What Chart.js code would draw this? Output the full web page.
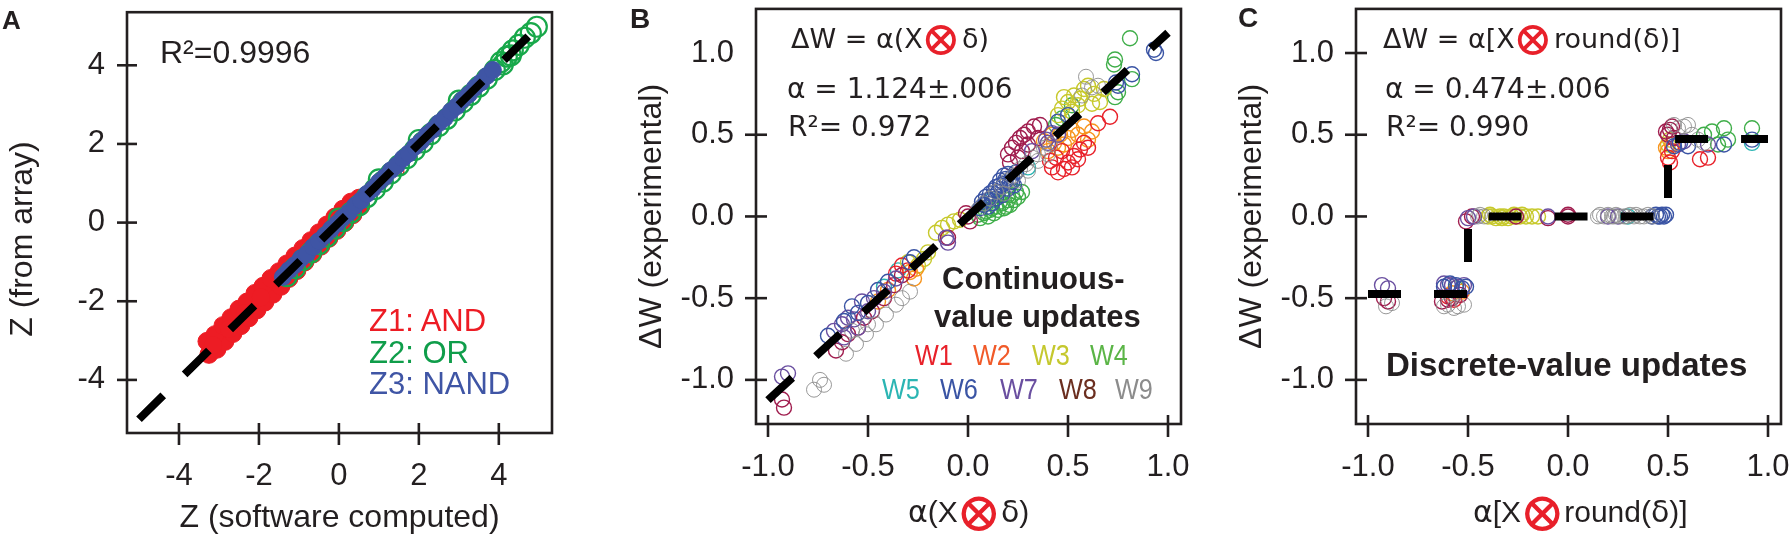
<!DOCTYPE html>
<html>
<head>
<meta charset="utf-8">
<script src="https://cdn.jsdelivr.net/npm/chart.js@4.4.1/dist/chart.umd.min.js"></script>
<style>
  body { margin: 0; background: #fff; }
  #wrap { position: relative; width: 1791px; height: 538px; overflow: hidden; font-family: 'Liberation Sans', Arial, sans-serif; color: #231f20; }
  canvas { position: absolute; top: 0; }
  .t { position: absolute; white-space: nowrap; line-height: 1; }
  .b { font-weight: bold; }
  .dj { font-family: 'DejaVu Sans', sans-serif; }
  .gr { font-family: 'DejaVu Sans', sans-serif; }
  .ox { font-family: 'DejaVu Serif', serif; color: #e8202a; line-height: 0; }
  .o1 { font-size: 48px; vertical-align: -7px; margin: 0 1px 0 -2px; }
  .o2 { font-size: 55px; vertical-align: -9px; margin: 0 -1px 0 -2px; }
  .w { font-size: 29px; transform: scaleX(0.87); transform-origin: left; }
  .ry { transform: translate(-50%, -50%) rotate(-90deg); }
</style>
</head>
<body>
<div id="wrap">
  <canvas id="pa" width="600" height="538" style="left:0px"></canvas>
  <canvas id="pb" width="600" height="538" style="left:600px"></canvas>
  <canvas id="pc" width="591" height="538" style="left:1200px"></canvas>

  <!-- panel A -->
  <div class="t b" style="left:2px;top:7px;font-size:26px">A</div>
  <div class="t ry" style="left:21px;top:239px;font-size:32px">Z (from array)</div>
  <div class="t" style="left:160px;top:36px;font-size:32px">R²=0.9996</div>
  <div class="t" style="left:369px;top:305px;font-size:31px;color:#ed1c24">Z1: AND</div>
  <div class="t" style="left:369px;top:337px;font-size:31px;color:#0f9d4a">Z2: OR</div>
  <div class="t" style="left:369px;top:368px;font-size:31px;color:#3f55a5">Z3: NAND</div>

  <!-- panel B -->
  <div class="t b" style="left:630px;top:5px;font-size:28px">B</div>
  <div class="t dj" style="left:791px;top:25px;font-size:27px">ΔW = α(X<span class="ox o1">⊗</span>δ)</div>
  <div class="t dj" style="left:787px;top:75px;font-size:28px">α = 1.124±.006</div>
  <div class="t dj" style="left:788px;top:113px;font-size:28px">R²= 0.972</div>
  <div class="t b" style="left:942px;top:263px;font-size:31px">Continuous-</div>
  <div class="t b" style="left:934px;top:301px;font-size:31px">value updates</div>
  <div class="t w" style="left:915px;top:341px;color:#e8212a">W1</div>
  <div class="t w" style="left:973px;top:341px;color:#f15a29">W2</div>
  <div class="t w" style="left:1032px;top:341px;color:#c5c82e">W3</div>
  <div class="t w" style="left:1090px;top:341px;color:#5bb547">W4</div>
  <div class="t w" style="left:882px;top:375px;color:#2bb5b3">W5</div>
  <div class="t w" style="left:940px;top:375px;color:#3a54a4">W6</div>
  <div class="t w" style="left:1000px;top:375px;color:#6a4fa0">W7</div>
  <div class="t w" style="left:1059px;top:375px;color:#6b2e1f">W8</div>
  <div class="t w" style="left:1115px;top:375px;color:#8c8c8c">W9</div>
  <div class="t" style="left:908px;top:497px;font-size:30px"><span class="gr">α</span>(X<span class="ox o2">⊗</span><span class="gr">δ</span>)</div>

  <!-- panel C -->
  <div class="t b" style="left:1238px;top:4px;font-size:28px">C</div>
  <div class="t dj" style="left:1383px;top:25px;font-size:27px">ΔW = α[X<span class="ox o1">⊗</span>round(δ)]</div>
  <div class="t dj" style="left:1385px;top:75px;font-size:28px">α = 0.474±.006</div>
  <div class="t dj" style="left:1386px;top:113px;font-size:28px">R²= 0.990</div>
  <div class="t b" style="left:1386px;top:348px;font-size:33px">Discrete-value updates</div>
  <div class="t" style="left:1473px;top:497px;font-size:30px"><span class="gr">α</span>[X<span class="ox o2">⊗</span>round(<span class="gr">δ</span>)]</div>
</div>

<script>
const ink = '#231f20';
const tickFont = { family: "'Liberation Sans', Arial, sans-serif", size: 31 };

// ---- panel A data: Z (software computed) vs Z (from array) ----
const ticksA = [-4, -2, 0, 2, 4];
const fitA = [[-5, -5], [5, 5]];
const zAnd = [
  [-3.25, -3.35], [-3.05, -3.22], [-2.85, -3.02], [-2.65, -2.82], [-2.45, -2.62], [-2.25, -2.42],
  [-2.05, -2.22], [-1.85, -2.02], [-1.65, -1.82], [-1.45, -1.62], [-1.25, -1.42], [-1.05, -1.22],
  [-0.85, -1.0], [-0.65, -0.8], [-0.45, -0.6], [-0.25, -0.4], [-0.05, -0.2], [0.15, 0.0], [0.35, 0.2], [0.55, 0.42],
  [-3.3, -3.02], [-3.1, -2.85], [-2.9, -2.62], [-2.7, -2.42], [-2.5, -2.2], [-2.3, -2.02], [-2.1, -1.8],
  [-1.9, -1.62], [-1.7, -1.42], [-1.5, -1.25], [-1.3, -1.05], [-1.1, -0.85], [-0.9, -0.66], [-0.7, -0.46],
  [-0.5, -0.26], [-0.3, -0.06], [-0.1, 0.14], [0.1, 0.34], [0.3, 0.52], [0.5, 0.62],
  [-3.15, -3.12], [-2.75, -2.7], [-2.35, -2.3], [-1.95, -1.9]
];
const zAndOut = [[1.2, 1.12], [1.45, 1.55], [1.55, 1.3], [0.95, 0.8], [1.3, 1.42]];
const zOr = [
  [-1.3, -1.36], [-1.1, -1.16], [-0.9, -0.95], [-0.7, -0.76], [-0.5, -0.55], [-0.3, -0.36], [-0.1, -0.15],
  [0.1, 0.04], [0.3, 0.25], [0.5, 0.44], [0.7, 0.65], [0.9, 0.85], [1.1, 1.04], [1.3, 1.25], [1.5, 1.45],
  [1.7, 1.64], [1.9, 1.85], [2.1, 2.04], [2.3, 2.25], [2.5, 2.46], [2.7, 2.64], [2.9, 2.85], [3.1, 3.06],
  [3.3, 3.25], [3.5, 3.46], [3.7, 3.66], [3.9, 3.88], [4.05, 4.08], [4.2, 4.22], [4.35, 4.38], [4.5, 4.52],
  [4.65, 4.7], [4.8, 4.82], [4.95, 4.98], [4.3, 4.25], [4.1, 4.02], [0.0, 0.1], [1.0, 1.1], [2.0, 2.1], [3.0, 3.1]
];
const zNand = [
  [-1.4, -1.38], [-1.25, -1.21], [-1.1, -1.08], [-0.95, -0.91], [-0.8, -0.79], [-0.65, -0.62], [-0.5, -0.47],
  [-0.35, -0.33], [-0.2, -0.17], [-0.05, -0.03], [0.1, 0.13], [0.25, 0.26], [0.4, 0.43], [0.55, 0.56],
  [0.7, 0.73], [0.85, 0.86], [1.0, 1.03], [1.15, 1.16], [1.3, 1.33], [1.45, 1.46], [1.6, 1.63], [1.75, 1.76],
  [1.9, 1.93], [2.05, 2.06], [2.2, 2.23], [2.35, 2.36], [2.5, 2.53], [2.65, 2.66], [2.8, 2.83], [2.95, 2.96],
  [3.1, 3.13], [3.25, 3.26], [3.4, 3.43], [3.55, 3.56], [3.7, 3.73], [3.85, 3.88]
];

// ---- panel B data: continuous-value updates, W1..W9 ----
const ticksBC = [-1, -0.5, 0, 0.5, 1];
const fitB = [[-1, -1.124], [1, 1.124]];
const w1B = [[0.42, 0.30], [0.45, 0.27], [0.48, 0.29], [0.50, 0.33], [0.44, 0.36], [0.53, 0.37], [0.56, 0.41],
  [0.58, 0.45], [0.47, 0.40], [0.41, 0.34], [0.52, 0.30], [0.55, 0.35], [0.65, 0.57], [0.71, 0.61], [0.60, 0.42],
  [-0.33, -0.30], [-0.36, -0.35], [-0.30, -0.33]];
const w2B = [[0.40, 0.40], [0.43, 0.45], [0.46, 0.50], [0.50, 0.48], [0.52, 0.53], [0.55, 0.50], [0.58, 0.55],
  [0.45, 0.42], [0.60, 0.47], [0.62, 0.52], [0.48, 0.44], [0.42, 0.50], [0.38, 0.46], [-0.27, -0.38],
  [-0.29, -0.34], [-0.26, -0.32], [-0.40, -0.45], [-0.45, -0.52]];
const w3B = [[0.45, 0.62], [0.47, 0.66], [0.50, 0.70], [0.53, 0.74], [0.56, 0.72], [0.58, 0.78], [0.60, 0.80],
  [0.63, 0.75], [0.66, 0.70], [0.68, 0.78], [0.52, 0.64], [0.55, 0.68], [0.62, 0.69], [0.48, 0.73],
  [-0.16, -0.10], [-0.13, -0.07], [-0.10, -0.05], [-0.07, -0.03], [-0.04, -0.02], [-0.20, -0.22],
  [-0.25, -0.30], [-0.22, -0.26], [-0.30, -0.28]];
const w4B = [[0.08, 0.02], [0.11, 0.04], [0.14, 0.06], [0.17, 0.08], [0.20, 0.10], [0.22, 0.13], [0.24, 0.15],
  [0.13, 0.02], [0.18, 0.05], [0.21, 0.07], [0.05, 0.01], [0.10, 0.00], [0.06, -0.01], [0.09, 0.03],
  [0.12, 0.05], [0.15, 0.04], [0.16, 0.09], [0.19, 0.06], [0.23, 0.10], [0.25, 0.12], [0.27, 0.15],
  [0.20, 0.13], [0.81, 1.09], [0.735, 0.96], [0.73, 0.93], [0.82, 0.84], [0.735, 0.73], [0.75, 0.76],
  [0.52, 0.68], [0.47, 0.60], [0.44, 0.56]];
const w5B = [[-0.42, -0.43], [-0.35, -0.33], [0.12, 0.10], [0.30, 0.30]];
const w6B = [[0.08, 0.07], [0.10, 0.10], [0.12, 0.12], [0.13, 0.16], [0.15, 0.15], [0.16, 0.19], [0.18, 0.20],
  [0.19, 0.23], [0.20, 0.17], [0.22, 0.24], [0.12, 0.08], [0.17, 0.13], [0.21, 0.21], [0.24, 0.27],
  [0.14, 0.11], [0.06, 0.05], [0.09, 0.12], [0.11, 0.14], [0.14, 0.18], [0.16, 0.22], [0.18, 0.25],
  [0.20, 0.26], [0.22, 0.21], [0.23, 0.19], [0.10, 0.06], [0.07, 0.09],
  [0.93, 1.02], [0.94, 1.00], [0.82, 0.87], [0.74, 0.82], [0.75, 0.80],
  [0.45, 0.58], [0.50, 0.62], [-0.70, -0.73], [-0.62, -0.64], [-0.55, -0.59], [-0.50, -0.53],
  [-0.29, -0.28], [-0.27, -0.25], [-0.58, -0.55], [-0.45, -0.45], [-0.40, -0.40]];
const w7B = [[0.39, 0.47], [0.42, 0.51], [0.40, 0.45], [0.45, 0.50], [0.32, 0.40], [-0.93, -0.98],
  [-0.90, -0.96], [-0.11, -0.13], [-0.10, -0.16], [-0.67, -0.70], [-0.63, -0.66], [-0.60, -0.62],
  [-0.57, -0.63], [-0.53, -0.52], [-0.50, -0.58], [-0.42, -0.46], [-0.36, -0.38], [-0.47, -0.50],
  [-0.62, -0.74], [-0.55, -0.68]];
const w8B = [[0.20, 0.38], [0.22, 0.42], [0.24, 0.45], [0.26, 0.48], [0.28, 0.50], [0.30, 0.52], [0.33, 0.55],
  [0.36, 0.56], [0.25, 0.36], [0.30, 0.44], [0.35, 0.48], [0.21, 0.33], [0.27, 0.40], [0.00, 0.00],
  [0.01, -0.03], [-0.01, 0.02], [-0.10, -0.13], [-0.93, -1.12], [-0.92, -1.17], [-0.66, -0.82],
  [-0.60, -0.72], [-0.55, -0.68], [-0.48, -0.58], [-0.37, -0.42], [-0.33, -0.36], [-0.63, -0.77],
  [-0.52, -0.62], [-0.42, -0.50]];
const w9B = [[0.59, 0.855], [0.62, 0.79], [0.65, 0.80], [0.57, 0.74], [0.05, 0.04], [0.08, 0.08], [0.11, 0.11],
  [0.14, 0.15], [0.17, 0.18], [0.20, 0.22], [0.23, 0.25], [0.26, 0.29], [0.29, 0.32], [0.32, 0.36],
  [0.35, 0.38], [0.38, 0.42], [0.41, 0.44], [0.25, 0.22], [0.30, 0.28], [0.35, 0.34], [0.40, 0.38],
  [0.18, 0.14], [-0.77, -1.06], [-0.74, -1.00], [-0.72, -1.03], [-0.61, -0.84], [-0.56, -0.78],
  [-0.51, -0.72], [-0.46, -0.66], [-0.41, -0.60], [-0.36, -0.54], [-0.33, -0.50], [-0.29, -0.46],
  [-0.58, -0.70], [-0.50, -0.66]];

// ---- panel C data: discrete-value updates ----
const stepC = [[-1, -0.474], [-0.5, -0.474], [-0.5, 0], [0.5, 0], [0.5, 0.474], [1, 0.474]];
const w1C = [[-0.60, -0.49], [-0.57, -0.51], [0.50, 0.36], [0.51, 0.33], [0.66, 0.35], [0.70, 0.36], [0.52, 0.40]];
const w2C = [[-0.58, -0.47], [-0.53, -0.46], [0.50, 0.40], [0.52, 0.44], [0.49, 0.42]];
const w3C = [[-0.40, 0.00], [-0.38, 0.00], [-0.36, -0.01], [-0.34, 0.00], [-0.32, 0.00], [-0.30, -0.01],
  [-0.28, 0.00], [-0.26, 0.00], [-0.24, 0.00], [-0.21, 0.00], [-0.18, 0.00], [-0.15, 0.00], [-0.39, 0.01],
  [-0.33, -0.01], [-0.27, 0.01], [-0.23, 0.01], [0.50, 0.44], [0.51, 0.47]];
const w4C = [[0.72, 0.52], [0.78, 0.54], [0.75, 0.44], [0.92, 0.54], [0.80, 0.47], [0.68, 0.50], [-0.56, -0.44]];
const w5C = [[0.92, 0.45], [0.30, 0.00]];
const w6C = [[-0.62, -0.43], [-0.56, -0.42], [-0.53, -0.44], [-0.59, -0.41], [-0.51, -0.43], [0.42, 0.00],
  [0.45, 0.00], [0.48, 0.00], [0.47, 0.01], [0.44, 0.01], [0.46, 0.00], [0.49, 0.01], [0.53, 0.43],
  [0.56, 0.45], [0.78, 0.44], [0.92, 0.47], [0.60, 0.43]];
const w7C = [[-0.93, -0.42], [-0.90, -0.44], [-0.60, -0.42], [-0.55, -0.43], [-0.52, -0.42], [-0.62, -0.41],
  [-0.58, -0.42], [-0.50, -0.01], [-0.47, 0.00], [-0.10, 0.00], [0.25, 0.00], [0.55, 0.44], [0.70, 0.44],
  [0.58, 0.46], [0.20, 0.00]];
const w8C = [[-0.92, -0.50], [-0.90, -0.52], [-0.63, -0.52], [-0.58, -0.50], [-0.54, -0.48], [-0.60, -0.51],
  [-0.51, -0.03], [-0.48, 0.00], [-0.26, 0.00], [0.00, 0.00], [0.00, 0.01], [0.50, 0.50], [0.51, 0.53],
  [0.52, 0.55], [0.53, 0.48], [0.49, 0.52], [-0.10, -0.01]];
const w9C = [[-0.91, -0.55], [-0.88, -0.53], [-0.62, -0.55], [-0.60, -0.54], [-0.57, -0.56], [-0.55, -0.55],
  [-0.52, -0.54], [-0.45, 0.00], [-0.42, 0.00], [-0.44, 0.01], [0.15, 0.00], [0.16, 0.01], [0.18, 0.00],
  [0.20, 0.01], [0.22, 0.00], [0.23, 0.00], [0.24, 0.01], [0.26, 0.00], [0.28, 0.00], [0.29, 0.00],
  [0.31, 0.01], [0.33, 0.00], [0.34, 0.01], [0.36, 0.00], [0.38, 0.00], [0.40, 0.01], [0.42, 0.00],
  [0.55, 0.54], [0.58, 0.55], [0.62, 0.50], [0.65, 0.47], [0.60, 0.56], [0.53, 0.56], [0.68, 0.45]];

const wColors = ['#e8212a', '#f7941d', '#c7c92c', '#3fae49', '#2bb5b3', '#3a54a4', '#6a4fa0', '#a01d4e', '#8c8c8c'];

const xy = pts => pts.map(p => ({ x: p[0], y: p[1] }));

// frame box + tick marks that cross the axis line
const frameTicks = {
  id: 'frameTicks',
  afterDraw(chart, args, opts) {
    const { ctx, chartArea: a, scales } = chart;
    ctx.save();
    ctx.strokeStyle = ink;
    ctx.lineWidth = 2.6;
    ctx.strokeRect(a.left, a.top, a.right - a.left, a.bottom - a.top);
    scales.x.ticks.forEach(t => {
      const px = scales.x.getPixelForValue(t.value);
      ctx.beginPath();
      ctx.moveTo(px, a.bottom - opts.xIn);
      ctx.lineTo(px, a.bottom + opts.xOut);
      ctx.stroke();
    });
    scales.y.ticks.forEach(t => {
      if ((opts.skipY || []).includes(t.value)) return;
      const py = scales.y.getPixelForValue(t.value);
      ctx.beginPath();
      ctx.moveTo(a.left - opts.yOut, py);
      ctx.lineTo(a.left + opts.yIn, py);
      ctx.stroke();
    });
    ctx.restore();
  }
};

function fitLine(pts, dash) {
  return {
    data: xy(pts), showLine: true, borderColor: '#000', borderWidth: 8,
    borderDash: dash, borderCapStyle: 'butt', pointRadius: 0, fill: false
  };
}

function dots(pts, color, r, bw, filled) {
  return {
    data: xy(pts), pointStyle: 'circle', pointRadius: r, pointBorderWidth: bw,
    pointBorderColor: color, pointBackgroundColor: filled ? color : 'rgba(0,0,0,0)'
  };
}

function options(c) {
  return {
    responsive: false,
    animation: false,
    events: [],
    layout: { padding: c.padding },
    plugins: { legend: { display: false }, tooltip: { enabled: false }, frameTicks: c.marks },
    scales: {
      x: {
        type: 'linear', min: c.xMin, max: c.xMax,
        grid: { display: false, drawTicks: false },
        border: { display: false },
        afterBuildTicks: s => { s.ticks = c.ticks.map(v => ({ value: v })); },
        afterFit: s => { s.height = c.xHeight; s.paddingLeft = 0; s.paddingRight = 0; },
        ticks: { padding: 25, color: ink, font: tickFont, callback: c.fmt, autoSkip: false, maxRotation: 0 },
        title: c.xTitle || { display: false }
      },
      y: {
        type: 'linear', min: c.yMin, max: c.yMax,
        grid: { display: false, drawTicks: false },
        border: { display: false },
        afterBuildTicks: s => { s.ticks = c.ticks.map(v => ({ value: v })); },
        afterFit: s => { s.width = c.yWidth; s.paddingTop = 0; s.paddingBottom = 0; },
        ticks: { padding: 22, color: ink, font: tickFont, callback: c.fmt, autoSkip: false },
        title: c.yTitle || { display: false }
      }
    }
  };
}

const titleFont = { family: "'Liberation Sans', Arial, sans-serif", size: 32 };
const fmt1 = v => v.toFixed(1);

// chart A
new Chart(document.getElementById('pa'), {
  type: 'scatter',
  data: {
    datasets: [
      fitLine(fitA, [34, 30]),
      dots(zNand, '#3f55a5', 8.5, 1, true),
      dots(zOr, '#18a84a', 10, 2.2, false),
      dots(zAnd, '#ed1c24', 9, 1, true),
      dots(zAndOut, '#ed1c24', 3, 1.2, false)
    ]
  },
  options: options({
    padding: { left: 0, right: 48, top: 10, bottom: 0 },
    xMin: -5.3, xMax: 5.33, yMin: -5.35, yMax: 5.35,
    ticks: ticksA, fmt: v => String(v),
    xHeight: 105, yWidth: 127,
    xTitle: { display: true, text: 'Z (software computed)', color: ink, font: titleFont, padding: { top: 0, bottom: 1 } },
    marks: { xIn: 10, xOut: 12, yIn: 10, yOut: 10 }
  }),
  plugins: [frameTicks]
});

const yTitleW = { display: true, text: 'ΔW (experimental)', color: ink, font: titleFont, padding: { top: 33, bottom: 0 } };

// chart B
const wB = [w9B, w6B, w7B, w8B, w1B, w2B, w3B, w4B, w5B];
const wOrder = [8, 5, 6, 7, 0, 1, 2, 3, 4];
new Chart(document.getElementById('pb'), {
  type: 'scatter',
  data: {
    datasets: [fitLine(fitB, [33, 32])].concat(
      wB.map((pts, i) => dots(pts, wColors[wOrder[i]], 7.5, wOrder[i] === 8 ? 0.9 : 1.4, false)))
  },
  options: options({
    padding: { left: 0, right: 19, top: 3, bottom: 0 },
    xMin: -1.06, xMax: 1.065, yMin: -1.27, yMax: 1.27,
    ticks: ticksBC, fmt: fmt1,
    xHeight: 114, yWidth: 156,
    yTitle: yTitleW,
    marks: { xIn: 9, xOut: 13, yIn: 11, yOut: 11, skipY: [1] }
  }),
  plugins: [frameTicks]
});

// chart C
const wC = [w9C, w6C, w7C, w8C, w1C, w2C, w3C, w4C, w5C];
new Chart(document.getElementById('pc'), {
  type: 'scatter',
  data: {
    datasets: [fitLine(stepC, [33, 33])].concat(
      wC.map((pts, i) => dots(pts, wColors[wOrder[i]], 7.5, wOrder[i] === 8 ? 0.9 : 1.4, false)))
  },
  options: options({
    padding: { left: 0, right: 10, top: 3, bottom: 0 },
    xMin: -1.06, xMax: 1.065, yMin: -1.27, yMax: 1.27,
    ticks: ticksBC, fmt: fmt1,
    xHeight: 114, yWidth: 156,
    yTitle: yTitleW,
    marks: { xIn: 9, xOut: 13, yIn: 11, yOut: 11 }
  }),
  plugins: [frameTicks]
});
</script>
</body>
</html>
